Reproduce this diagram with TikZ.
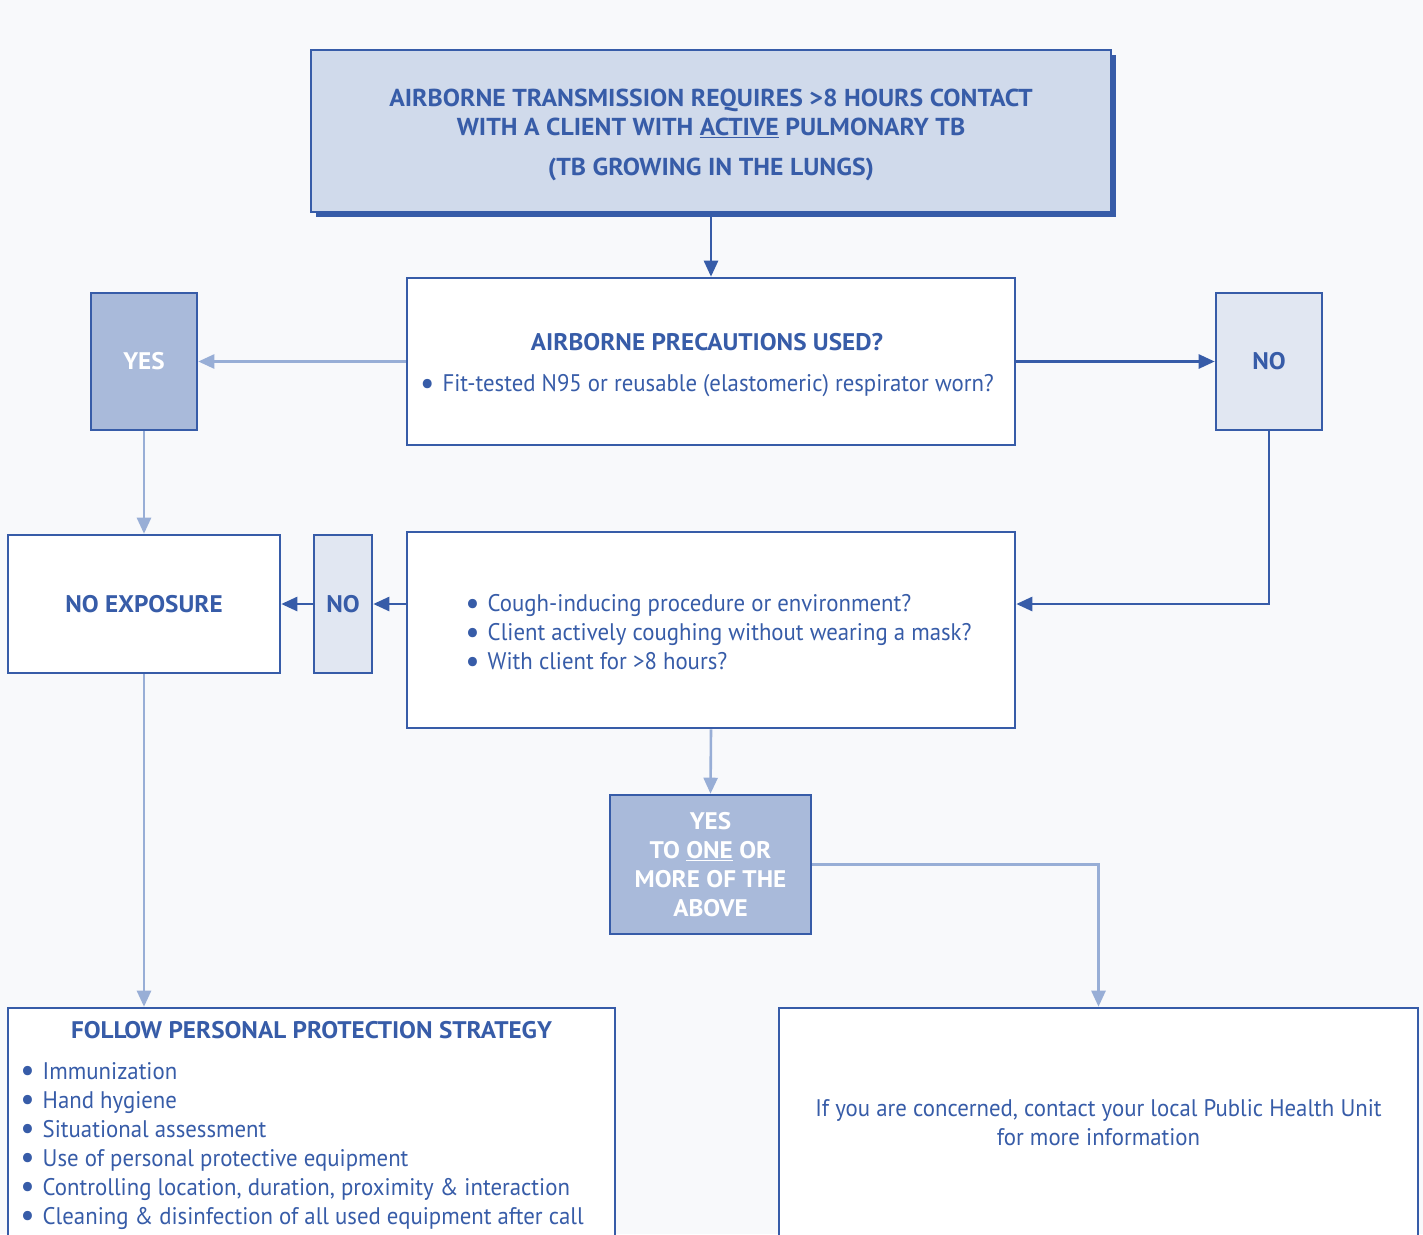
\documentclass[tikz,border=0pt]{standalone}
\usepackage{fontspec}
\setmainfont{PT Sans}[FakeStretch=0.95,BoldFeatures={FakeStretch=1.05}]
\usepackage{tikz}
\usetikzlibrary{arrows.meta,shadows}

\definecolor{tbdark}{RGB}{55,92,168}
\definecolor{tblight}{RGB}{152,174,214}
\definecolor{tbmid}{RGB}{169,186,218}
\definecolor{tbpale}{RGB}{225,231,242}
\definecolor{tbtop}{RGB}{208,218,235}
\definecolor{tbback}{RGB}{248,249,251}

\newcommand{\tbbullet}{\smash{\raisebox{-2.5pt}{\scalebox{1.4}{\textbullet}}}\hspace{8pt}}

\begin{document}
\begin{tikzpicture}[x=1pt,y=-1pt,line width=2.6pt]
            \tikzstyle{box}=[rectangle,draw=tbdark,fill=white,inner sep=0pt,text=tbdark,align=center,font=\fontsize{24}{29}\selectfont]
            \tikzstyle{answer}=[box,font=\fontsize{24}{29}\selectfont\bfseries]
            \tikzstyle{words}=[text=tbdark,inner sep=0pt,align=center,font=\fontsize{24}{29}\selectfont]
            \tikzstyle{line}=[text=tbdark,inner sep=0pt,anchor=base west,text height=17pt,text depth=5pt,font=\fontsize{24}{29}\selectfont]
            \tikzstyle{darr}=[draw=tbdark,-{Triangle[length=16pt,width=14pt]}]
            \tikzstyle{larr}=[draw=tblight,-{Triangle[length=16pt,width=14pt]}]

            \clip (0,0) rectangle (1423,1234);
            \fill[tbback] (0,0) rectangle (1423,1234);

            % top statement
            \node[box,fill=tbtop,minimum width=800,minimum height=162,
                  drop shadow={shadow xshift=5pt,shadow yshift=-5pt,fill=tbdark,opacity=1}] (risk) at (711,131) {};
            \node[words,font=\fontsize{24.5}{29}\selectfont\bfseries] (risk-text) at (711,135)
                {AIRBORNE TRANSMISSION REQUIRES >8 HOURS CONTACT\\
                 WITH A CLIENT WITH \underline{ACTIVE} PULMONARY TB\\[11pt]
                 (TB GROWING IN THE LUNGS)};

            % first question and its answers
            \node[box,minimum width=608,minimum height=167] (q1) at (711,361.5) {};
            \node[words] (q1-text) at (707,365.5)
                {{\bfseries AIRBORNE PRECAUTIONS USED?}\\[12pt]
                 \tbbullet Fit-tested N95 or reusable (elastomeric) respirator worn?};
            \node[answer,fill=tbmid,text=white,minimum width=106,minimum height=137] (yes1) at (144,361.5) {YES};
            \node[answer,fill=tbpale,minimum width=106,minimum height=137] (no1) at (1269,361.5) {NO};

            % second question
            \node[box,minimum width=608,minimum height=196] (q2) at (711,630) {};
            \foreach \i/\txt in {1/{Cough-inducing procedure or environment?},
                                 2/{Client actively coughing without wearing a mask?},
                                 3/{With client for >8 hours?}}
                \node[line] (q2-\i) at (464,611.5+29*\i-29) {\tbbullet\txt};

            \node[answer,fill=tbpale,minimum width=58,minimum height=138] (no2) at (343,604) {NO};
            \node[answer,minimum width=272,minimum height=138] (noexp) at (144,604) {NO EXPOSURE};
            \node[answer,fill=tbmid,text=white,minimum width=201,minimum height=139] (yes2) at (710.5,864.5)
                {YES\\TO \underline{ONE} OR\\MORE OF THE\\ABOVE};

            % outcomes
            \node[box,minimum width=607,minimum height=230] (protect) at (311.5,1123) {};
            \node[words,font=\fontsize{24}{29}\selectfont\bfseries] (protect-title) at (311.5,1030)
                {FOLLOW PERSONAL PROTECTION STRATEGY};
            \foreach \i/\txt in {1/{Immunization},
                                 2/{Hand hygiene},
                                 3/{Situational assessment},
                                 4/{Use of personal protective equipment},
                                 5/{Controlling location, duration, proximity \& interaction},
                                 6/{Cleaning \& disinfection of all used equipment after call}}
                \node[line] (pp-\i) at (19,1079+29*\i-29) {\tbbullet\txt};

            \node[box,minimum width=639,minimum height=230] (concern) at (1098.5,1123)
                {If you are concerned, contact your local Public Health Unit\\for more information};

            % connectors
            \draw[darr] (risk.south) -- (q1.north);
            \draw[larr] (q1.west) -- (yes1.east);
            \draw[darr] (q1.east) -- (no1.west);
            \draw[darr] (no1.south) |- (q2.east |- noexp.east);
            \draw[larr] (yes1.south) -- (noexp.north);
            \draw[darr] (q2.west |- no2.east) -- (no2.east);
            \draw[darr] (no2.west) -- (noexp.east);
            \draw[larr] (q2.south) -- (yes2.north);
            \draw[larr] (yes2.east) -| (concern.north);
            \draw[larr] (noexp.south) -- (noexp.south |- protect.north);

        \end{tikzpicture}
\end{document}
